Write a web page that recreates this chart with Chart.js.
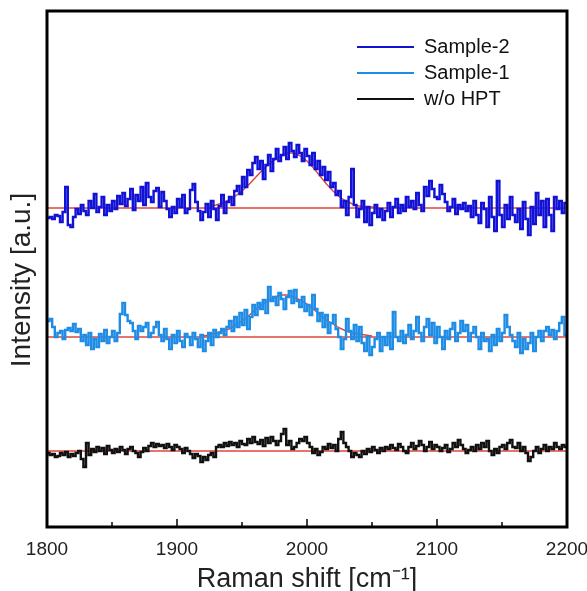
<!DOCTYPE html>
<html>
<head>
<meta charset="utf-8">
<script src="https://cdn.jsdelivr.net/npm/chart.js@4.4.1/dist/chart.umd.min.js"></script>
<style>
html, body { margin: 0; padding: 0; background: #fff; }
#wrap { width: 587px; height: 591px; }
</style>
</head>
<body>
<div id="wrap"><canvas id="raman"></canvas></div>
<script>
// Raman shift grid: 1800..2200 cm-1, one reading every 2 cm-1
var shiftStart = 1800;
var shiftStep = 2;
var xTicks = [1800, 1900, 2000, 2100, 2200];

// offset spectra (a.u.)
var sample2 = [
    309, 310, 308, 312, 311, 305, 315, 340, 302, 300,
    310, 318, 313, 322, 316, 312, 326, 319, 333, 315,
    320, 330, 312, 322, 316, 326, 318, 331, 323, 334,
    321, 328, 338, 317, 332, 326, 340, 322, 344, 330,
    325, 336, 339, 320, 335, 326, 318, 310, 320, 314,
    328, 320, 332, 314, 318, 337, 343, 325, 316, 307,
    315, 323, 310, 326, 318, 307, 321, 332, 314, 325,
    330, 322, 336, 341, 333, 350, 340, 357, 352, 364,
    370, 358, 366, 348, 362, 372, 356, 368, 378, 366,
    372, 380, 368, 384, 376, 370, 382, 374, 366, 378,
    371, 362, 374, 358, 366, 352, 360, 347, 355, 340,
    344, 332, 336, 320, 326, 312, 330, 358, 322, 310,
    318, 326, 305, 320, 302, 314, 322, 310, 318, 307,
    316, 324, 310, 320, 328, 314, 322, 316, 330, 320,
    326, 318, 334, 322, 316, 340, 331, 346, 338, 330,
    328, 342, 333, 325, 316, 320, 328, 313, 322, 318,
    324, 316, 321, 310, 326, 312, 304, 324, 318, 300,
    330, 310, 296, 346, 312, 300, 322, 308, 330, 312,
    305, 318, 298, 325, 308, 292, 320, 303, 334, 312,
    326, 300, 328, 312, 296, 330, 318, 326, 314, 324,
    322
];
var sample1 = [
    206, 208, 200, 190, 194, 196, 188, 197, 199, 196,
    203, 195, 198, 186, 192, 182, 194, 178, 188, 180,
    193, 186, 197, 184, 190, 196, 186, 194, 213, 224,
    212, 206, 204, 196, 188, 201, 196, 200, 204, 190,
    194, 200, 205, 192, 186, 198, 188, 178, 192, 184,
    196, 186, 180, 193, 190, 182, 194, 188, 180, 192,
    176, 186, 194, 182, 197, 190, 194, 198, 192, 200,
    206, 196, 210, 200, 214, 202, 217, 198, 210, 222,
    212, 224, 218, 227, 214, 240, 226, 230, 222, 234,
    228, 218, 230, 236, 224, 237, 226, 220, 230, 216,
    222, 212, 232, 218, 206, 214, 200, 212, 194, 204,
    212, 198, 190, 178, 188, 208, 196, 188, 202, 186,
    200, 184, 176, 190, 172, 180, 188, 194, 176, 190,
    182, 194, 178, 215, 190, 186, 196, 184, 192, 202,
    188, 196, 210, 194, 186, 200, 208, 192, 204, 184,
    200, 190, 178, 196, 188, 198, 204, 186, 194, 206,
    196, 202, 186, 194, 200, 190, 178, 194, 186, 188,
    176, 192, 182, 198, 186, 194, 212, 200, 192, 186,
    180, 194, 174, 188, 178, 184, 194, 176, 190, 196,
    186, 196, 200, 192, 197, 188, 196, 204, 210, 192,
    190
];
var noHpt = [
    74, 72, 73, 70, 71, 74, 72, 75, 70, 73,
    71, 74, 76, 68, 60, 84, 72, 78, 75, 80,
    76, 79, 73, 81, 77, 74, 78, 75, 80, 77,
    73, 78, 80, 76, 74, 70, 75, 79, 76, 81,
    84, 80, 83, 81, 82, 79, 83, 80, 77, 82,
    80, 78, 74, 79, 76, 73, 69, 73, 71, 65,
    70, 67, 72, 74, 70, 80, 82, 80, 84, 81,
    85, 82, 84, 80, 86, 83, 82, 88, 84, 90,
    85, 83, 87, 81, 89, 84, 90, 86, 82, 86,
    93, 98, 82, 86, 78, 80, 84, 88, 86, 90,
    84, 80, 74, 78, 72, 75, 80, 78, 83, 79,
    82, 76, 88, 95, 84, 80, 76, 70, 74, 72,
    70, 76, 73, 78, 75, 80, 77, 74, 79, 76,
    80, 78, 82, 79, 77, 83, 80, 76, 74, 80,
    84, 78, 81, 86, 82, 76, 80, 85, 78, 82,
    80, 76, 79, 82, 75, 78, 84, 80, 87, 82,
    78, 74, 77, 80, 76, 82, 78, 84, 80, 86,
    76, 72, 78, 74, 80, 82, 78, 84, 87, 80,
    79, 84, 76, 80, 74, 66, 70, 76, 80, 74,
    78, 82, 76, 80, 78, 84, 80, 78, 82, 80,
    80
];

// flat baselines under each spectrum
var baselines = [319, 190, 76];

// peak fits (red curves)
var fit2Shift = [1925, 1930, 1935, 1940, 1945, 1950, 1955, 1960, 1965, 1970, 1975, 1980, 1985, 1990, 1995, 2000, 2005, 2010, 2015, 2020, 2025, 2030, 2035, 2040, 2045, 2050, 2055];
var fit2Value = [321, 322, 324, 327, 331, 336, 342, 349, 356, 362, 367, 371, 374, 374, 371, 366, 359, 351, 343, 336, 330, 326, 323, 321, 320, 320, 319];
var fit1Shift = [1920, 1925, 1930, 1935, 1940, 1945, 1950, 1955, 1960, 1965, 1970, 1975, 1980, 1985, 1990, 1995, 2000, 2005, 2010, 2015, 2020, 2025, 2030, 2035, 2040, 2045, 2050];
var fit1Value = [191, 192, 194, 196, 198, 202, 206, 211, 217, 222, 226, 230, 232, 232, 230, 227, 223, 218, 212, 207, 203, 199, 196, 194, 193, 192, 191];

var legendNames = ['Sample-2', 'Sample-1', 'w/o HPT'];
var lineColors = ['#1212d6', '#1f8de6', '#111111'];
var fitColor = '#e0443a';
var fontFam = '"Liberation Sans", Arial, sans-serif';

function spectrum(vals) {
    return vals.map(function (v, i) { return { x: shiftStart + i * shiftStep, y: v }; });
}
function pairs(xs, ys) {
    return xs.map(function (x, i) { return { x: x, y: ys[i] }; });
}
function flat(v) {
    return [{ x: xTicks[0], y: v }, { x: xTicks[xTicks.length - 1], y: v }];
}

var traceStyle = { borderWidth: 2.4, pointRadius: 0, stepped: true, fill: false };
var fitStyle = { borderColor: fitColor, borderWidth: 1.4, pointRadius: 0, fill: false, tension: 0 };

var frame = {
    id: 'frame',
    afterDraw: function (chart) {
        var c = chart.ctx, a = chart.chartArea, xs = chart.scales.x;
        c.save();
        c.strokeStyle = '#000';
        c.lineWidth = 3;
        c.strokeRect(a.left, a.top, a.right - a.left, a.bottom - a.top);
        c.lineWidth = 1.5;
        for (var t = xTicks[0]; t <= xTicks[xTicks.length - 1]; t += 50) {
            var px = xs.getPixelForValue(t);
            var len = (t % 100 === 0) ? 8 : 5;
            c.beginPath();
            c.moveTo(px, a.bottom);
            c.lineTo(px, a.bottom - len);
            c.stroke();
        }
        // y title, drawn by hand so it can sit where the original has it
        c.fillStyle = '#222';
        c.save();
        c.translate(22, 280);
        c.rotate(-Math.PI / 2);
        c.font = '28px ' + fontFam;
        c.textAlign = 'center';
        c.textBaseline = 'middle';
        c.fillText('Intensity [a.u.]', 0, 0);
        c.restore();
        // legend, top right inside the frame
        c.font = '20px ' + fontFam;
        c.textBaseline = 'middle';
        c.fillStyle = '#111';
        for (var i = 0; i < legendNames.length; i++) {
            var y = 47 + i * 26;
            c.strokeStyle = lineColors[i];
            c.lineWidth = 2.2;
            c.beginPath();
            c.moveTo(357, y);
            c.lineTo(414, y);
            c.stroke();
            c.fillText(legendNames[i], 424, y);
        }
        c.restore();
    }
};

new Chart(document.getElementById('raman'), {
    type: 'line',
    data: {
        datasets: [
            Object.assign({ label: legendNames[0], data: spectrum(sample2), borderColor: lineColors[0] }, traceStyle),
            Object.assign({ label: legendNames[1], data: spectrum(sample1), borderColor: lineColors[1] }, traceStyle),
            Object.assign({ label: legendNames[2], data: spectrum(noHpt), borderColor: lineColors[2] }, traceStyle),
            Object.assign({ label: 'base-2', data: flat(baselines[0]) }, fitStyle),
            Object.assign({ label: 'base-1', data: flat(baselines[1]) }, fitStyle),
            Object.assign({ label: 'base-0', data: flat(baselines[2]) }, fitStyle),
            Object.assign({ label: 'fit-2', data: pairs(fit2Shift, fit2Value) }, fitStyle),
            Object.assign({ label: 'fit-1', data: pairs(fit1Shift, fit1Value) }, fitStyle)
        ]
    },
    options: {
        responsive: true,
        maintainAspectRatio: false,
        animation: false,
        layout: { padding: { top: 11, right: 20, left: 47, bottom: 0 } },
        plugins: { legend: { display: false }, tooltip: { enabled: false } },
        scales: {
            x: {
                type: 'linear',
                min: 1800,
                max: 2200,
                afterBuildTicks: function (s) { s.ticks = xTicks.map(function (v) { return { value: v }; }); },
                afterFit: function (s) { s.height = 64; s.paddingLeft = 0; s.paddingRight = 0; },
                grid: { display: false },
                border: { display: false },
                ticks: {
                    color: '#222', padding: 3, maxRotation: 0,
                    font: { size: 19, family: fontFam },
                    callback: function (v) { return String(v); }
                },
                title: { display: true, text: 'Raman shift [cm\u207B\u00B9]', color: '#222', padding: { top: 0, bottom: -5 },
                         font: { size: 27, family: fontFam } }
            },
            y: {
                display: false,
                min: 0,
                max: 516
            }
        }
    },
    plugins: [frame]
});
</script>
</body>
</html>
